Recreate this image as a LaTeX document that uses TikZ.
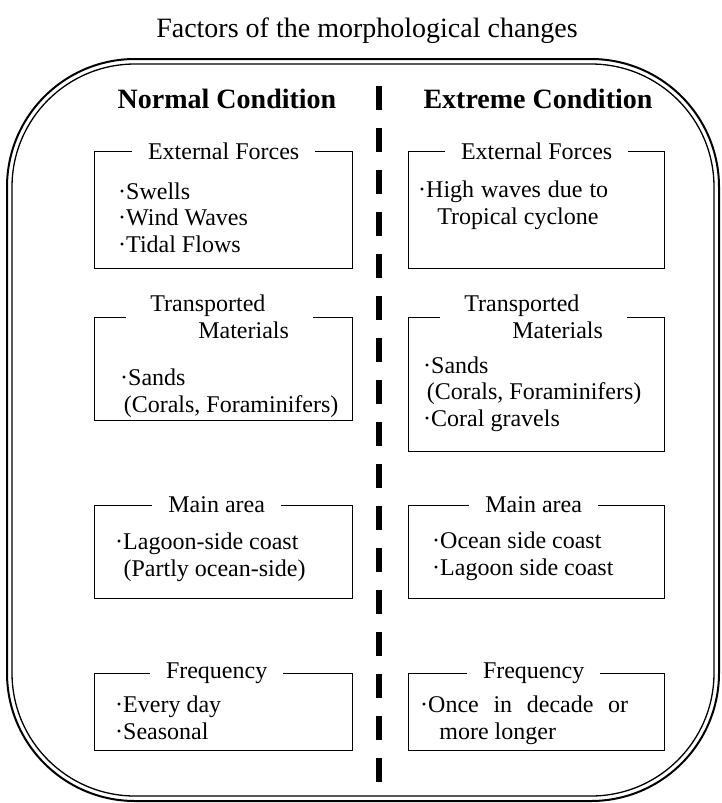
\documentclass[tikz,border=0pt]{standalone}
\usepackage{fontspec}
\setmainfont{Liberation Serif}
\usetikzlibrary{positioning}

\begin{document}
\begin{tikzpicture}[x=1pt, y=-1pt, font=\fontsize{24}{26.5}\selectfont,
  panel/.style={draw, line width=1.3pt, anchor=north west, inner sep=0pt},
  tag/.style={fill=white, inner xsep=16pt, inner ysep=1pt},
  items/.style={anchor=base west, align=left, inner sep=0pt},
  head/.style={anchor=base, font=\fontsize{28}{30}\selectfont}]
\useasboundingbox (0,0) rectangle (721,803);

% frame and divider
\draw[line width=2pt, rounded corners=128pt] (7,59) rectangle (719,801);
\draw[line width=1.3pt, rounded corners=123pt] (12,64) rectangle (714,796);
\coordinate (divtop) at (379,86);
\coordinate (divbot) at (379,782);
\draw[line width=6.5pt, dash pattern=on 24pt off 18pt] (divtop) -- (divbot);

\node[head] (title) at (367,37) {Factors of the morphological changes};
\node[head, font=\fontsize{28}{30}\selectfont\bfseries] (normal) at (227,108) {Normal Condition};
\node[head, font=\fontsize{28}{30}\selectfont\bfseries] (extreme) at (538,108) {Extreme Condition};

% normal condition
\node[panel, minimum width=258, minimum height=117] (lext) at (94,151) {};
\node[panel, minimum width=258, minimum height=103] (ltra) at (94,317) {};
\node[panel, minimum width=258, minimum height=93] (lmain) at (94,505) {};
\node[panel, minimum width=258, minimum height=77] (lfreq) at (94,673) {};

\node[tag] (lextt) at (lext.north) {External Forces};
\node[tag, align=left, inner xsep=24pt] (ltrat) at ([xshift=-4pt]ltra.north) {Transported\\\hspace*{48pt}Materials};
\node[tag] (lmaint) at ([xshift=-7pt]lmain.north) {Main area};
\node[tag] (lfreqt) at ([xshift=-7pt]lfreq.north) {Frequency};

\node[items] (lexti) at (118,252) {·Swells\\·Wind Waves\\·Tidal Flows};
\node[items] (ltrai) at (120,412) {·Sands\\\hspace*{0.15em}(Corals, Foraminifers)};
\node[items] (lmaini) at (115,576) {·Lagoon-side coast\\\hspace*{0.35em}(Partly ocean-side)};
\node[items] (lfreqi) at (115,739) {·Every day\\·Seasonal};

% extreme condition
\node[panel, minimum width=256, minimum height=117] (rext) at (408,151) {};
\node[panel, minimum width=256, minimum height=134] (rtra) at (408,317) {};
\node[panel, minimum width=256, minimum height=93] (rmain) at (408,505) {};
\node[panel, minimum width=256, minimum height=77] (rfreq) at (408,673) {};

\node[tag] (rextt) at (rext.north) {External Forces};
\node[tag, align=left, inner xsep=24pt] (rtrat) at ([xshift=-3pt]rtra.north) {Transported\\\hspace*{48pt}Materials};
\node[tag] (rmaint) at ([xshift=-3pt]rmain.north) {Main area};
\node[tag] (rfreqt) at ([xshift=-3pt]rfreq.north) {Frequency};

\node[items] (rexti) at (418,224) {\makebox[190pt][s]{·High waves due to}\\\hspace*{0.8em}Tropical cyclone};
\node[items] (rtrai) at (423,426) {·Sands\\\hspace*{0.15em}(Corals, Foraminifers)\\·Coral gravels};
\node[items] (rmaini) at (432,575) {·Ocean side coast\\·Lagoon side coast};
\node[items] (rfreqi) at (420,739) {\makebox[208pt][s]{·Once in decade or}\\\hspace*{0.8em}more longer};
\end{tikzpicture}
\end{document}
